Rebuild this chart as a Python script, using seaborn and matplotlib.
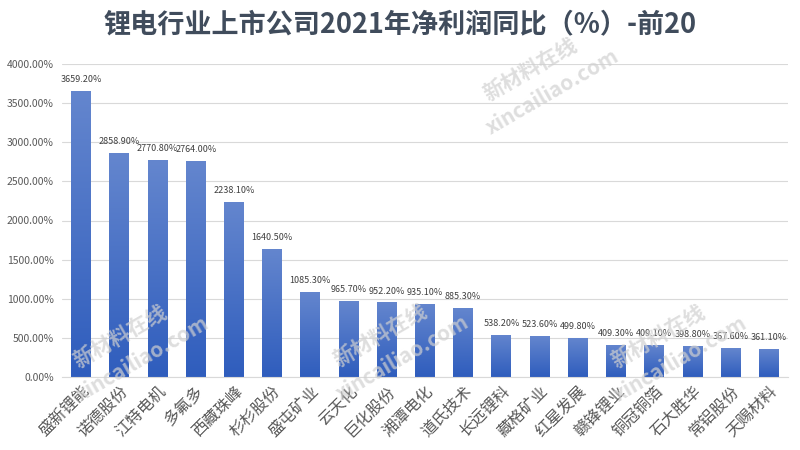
import numpy as np
import pandas as pd
import matplotlib
matplotlib.use('Agg')
import matplotlib.pyplot as plt
import seaborn as sns
from matplotlib.colors import LinearSegmentedColormap
from matplotlib.ticker import FuncFormatter

# data
companies = ['盛新锂能', '诺德股份', '江特电机', '多氟多', '西藏珠峰', '杉杉股份',
             '盛屯矿业', '云天化', '巨化股份', '湘潭电化', '道氏技术', '长远锂科',
             '藏格矿业', '红星发展', '赣锋锂业', '铜冠铜箔', '石大胜华', '常铝股份',
             '天赐材料']
growth = [3659.2, 2858.9, 2770.8, 2764.0, 2238.1, 1640.5, 1085.3, 965.7, 952.2,
          935.1, 885.3, 538.2, 523.6, 499.8, 409.3, 409.1, 398.8, 367.6, 361.1]
title = '锂电行业上市公司2021年净利润同比（%）-前20'

df = pd.DataFrame({'company': companies, 'growth': growth})

sns.set_style('white')
plt.rcParams['font.family'] = ['Noto Sans CJK SC', 'DejaVu Sans']

fig = plt.figure(figsize=(8, 4.5), dpi=100)
ax = fig.add_axes([0.0775, 0.1622, 0.9075, 0.6956])

sns.barplot(data=df, x='company', y='growth', color='#4472c4', width=0.52,
            saturation=1, ax=ax, zorder=2)

# excel-like vertical gradient on each bar
cmap = LinearSegmentedColormap.from_list('bar', ['#2f5dbd', '#6486ce'])
grad = np.linspace(0, 1, 256).reshape(-1, 1)
for p in ax.patches:
    x0, y0 = p.get_x(), p.get_y()
    w, h = p.get_width(), p.get_height()
    im = ax.imshow(grad, cmap=cmap, origin='lower', aspect='auto',
                   extent=[x0, x0 + w, y0, y0 + h], zorder=2)
    im.set_clip_path(p)
    p.set_facecolor('none')
    p.set_edgecolor('none')

for i, v in enumerate(growth):
    ax.annotate(f'{v:.2f}%', (i, v), xytext=(0, 5), textcoords='offset points',
                ha='center', va='bottom', fontsize=6.5, color='#404040')

ax.set_xlim(-0.5, len(companies) - 0.5)
ax.set_ylim(0, 4000)
ax.set_yticks(np.arange(0, 4001, 500))
ax.yaxis.set_major_formatter(FuncFormatter(lambda v, _: f'{v:.2f}%'))
ax.grid(axis='y', color='#d9d9d9', lw=0.8, zorder=0)
ax.set_axisbelow(True)
for s in ['top', 'right', 'left']:
    ax.spines[s].set_visible(False)
ax.spines['bottom'].set_color('#d9d9d9')
ax.set_xlabel('')
ax.set_ylabel('')
ax.tick_params(axis='y', length=0, labelsize=7.5, labelcolor='#595959', pad=6)
ax.tick_params(axis='x', length=0, labelsize=11.5, labelcolor='#595959', pad=4)
plt.setp(ax.get_xticklabels(), rotation=45, ha='right', rotation_mode='anchor')

fig.text(0.5, 0.944, title, ha='center', va='center', fontsize=19.5,
         fontweight='bold', color='#404c5c')

# watermarks
marks = [(120, 337), (380, 336), (530, 70), (658, 337)]
for mx, my in marks:
    fig.text(mx / 800, 1 - my / 450, '新材料在线', ha='center', va='center',
             rotation=30, fontsize=15, fontweight='bold', color='#d0d0d0',
             alpha=0.7, zorder=5)
    fig.text((mx + 22) / 800, 1 - (my + 22) / 450, 'xincailiao.com',
             ha='center', va='center', rotation=30, fontsize=15,
             fontweight='bold', color='#d0d0d0', alpha=0.7, zorder=5)

fig.savefig('out.png', dpi=100)
